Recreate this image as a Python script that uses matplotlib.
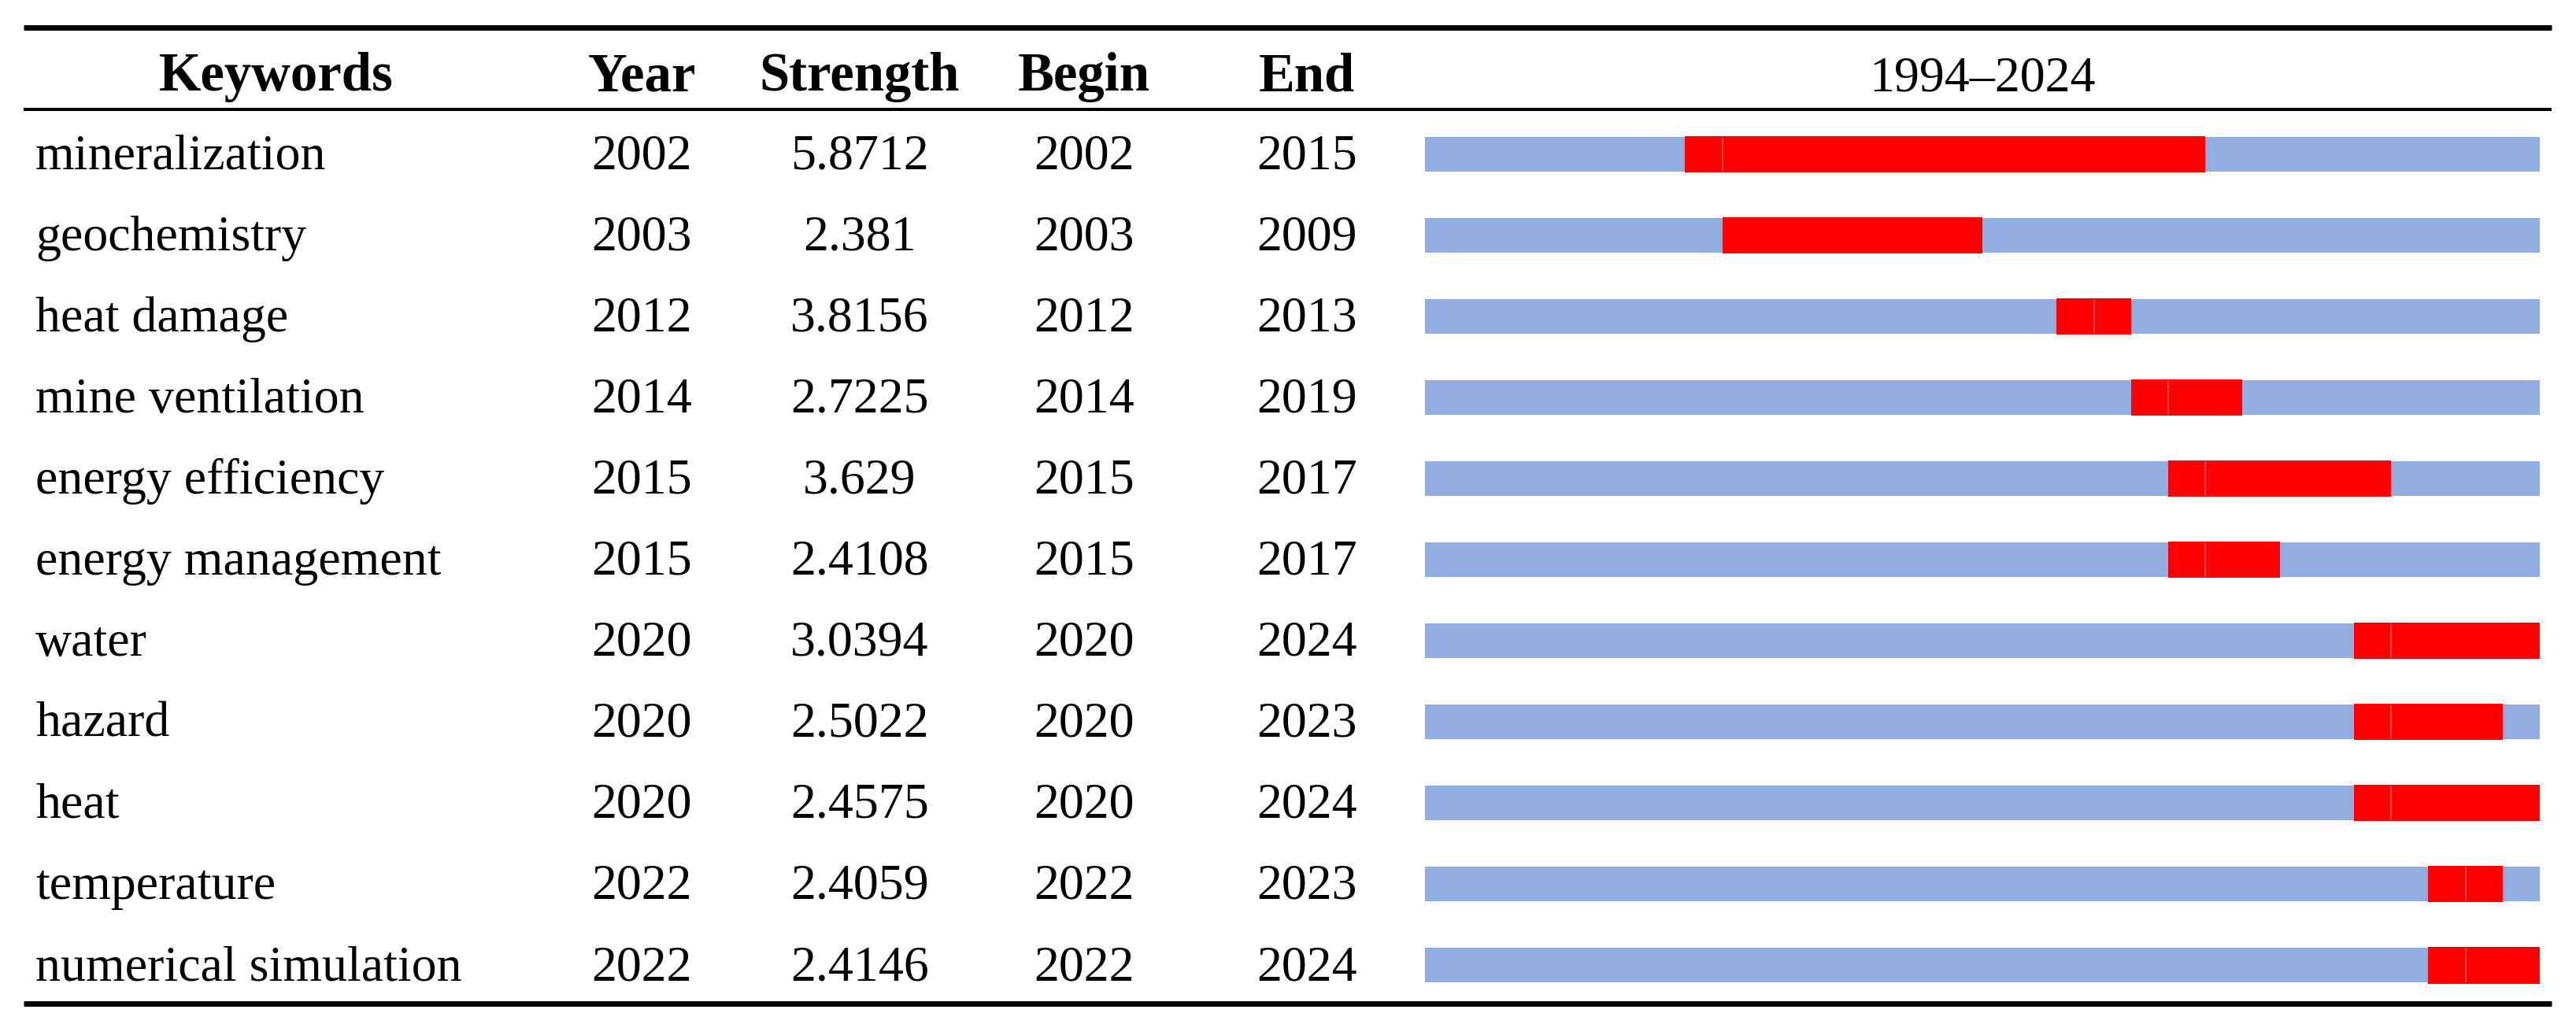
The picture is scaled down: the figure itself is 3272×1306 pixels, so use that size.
import matplotlib
matplotlib.use("Agg")
import matplotlib.pyplot as plt
from matplotlib.lines import Line2D
from matplotlib.transforms import blended_transform_factory

# table data
keywords = ["mineralization", "geochemistry", "heat damage", "mine ventilation",
            "energy efficiency", "energy management", "water", "hazard", "heat",
            "temperature", "numerical simulation"]
years = [2002, 2003, 2012, 2014, 2015, 2015, 2020, 2020, 2020, 2022, 2022]
strengths = ["5.8712", "2.381", "3.8156", "2.7225", "3.629", "2.4108",
             "3.0394", "2.5022", "2.4575", "2.4059", "2.4146"]
begins = [2002, 2003, 2012, 2014, 2015, 2015, 2020, 2020, 2020, 2022, 2022]
ends = [2015, 2009, 2013, 2019, 2017, 2017, 2024, 2023, 2024, 2023, 2024]
# last year of the red burst as drawn in the timeline
burst_last = [2015, 2009, 2013, 2016, 2020, 2017, 2024, 2023, 2024, 2023, 2024]
# faint seam after the first burst cell (not drawn on geochemistry)
seam = [True, False, True, True, True, True, True, True, True, True, True]
span_start, span_end = 1994, 2024

W, H = 3272, 1306
fig = plt.figure(figsize=(W / 100, H / 100), dpi=100)
plt.rcParams['font.family'] = ['Liberation Serif', 'DejaVu Serif']

# timeline axes, rows as data y
top_px, bot_px = 144.5, 1278
ax = fig.add_axes([1810 / W, 1 - bot_px / H, 1416 / W, (bot_px - top_px) / H])
ax.set_xlim(span_start, span_end)
ax.set_ylim(len(keywords) - 0.5, -0.5)
ax.axis('off')

bh = 0.427
blue = '#92ade0'
red = '#ff0000'
for i in range(len(keywords)):
    ax.barh(i, span_end - span_start, left=span_start, height=bh, color=blue, linewidth=0)
    b0 = begins[i] - 1  # cell of year y spans [y-1, y]
    ax.barh(i, burst_last[i] - b0, left=b0, height=bh + 0.02, color=red, linewidth=0)
    if seam[i]:
        ax.vlines(begins[i], i - bh / 2, i + bh / 2, color='#e0474f', lw=1.5)

# table text
tr = blended_transform_factory(fig.transFigure, ax.transData)
fs, hfs = 46, 49.5
hy = -0.786
base = 0.18
ax.text(351 / W, hy, "Keywords", transform=tr, ha='center', va='baseline',
        fontsize=hfs, fontweight='bold')
cols = [(815, "Year", years), (1092, "Strength", strengths),
        (1377, "Begin", begins), (1660, "End", ends)]
for x, name, vals in cols:
    ax.text(x / W, hy, name, transform=tr, ha='center', va='baseline',
            fontsize=hfs, fontweight='bold')
    for i, v in enumerate(vals):
        ax.text(x / W, i + base, str(v), transform=tr, ha='center', va='baseline',
                fontsize=fs)
for i, k in enumerate(keywords):
    ax.text(45 / W, i + base, k, transform=tr, ha='left', va='baseline', fontsize=fs)
ax.text((span_start + span_end) / 2, hy, f"{span_start}\u2013{span_end}",
        ha='center', va='baseline', fontsize=fs)

# table rules
x0, x1 = 30 / W, 3241 / W
for ypx, lw in [(34.5, 5.0), (139, 2.9), (1274.5, 5.0)]:
    fig.add_artist(Line2D([x0, x1], [1 - ypx / H] * 2, transform=fig.transFigure,
                          color='black', lw=lw, solid_capstyle='butt'))

fig.savefig("out.png", dpi=100, facecolor='white')
